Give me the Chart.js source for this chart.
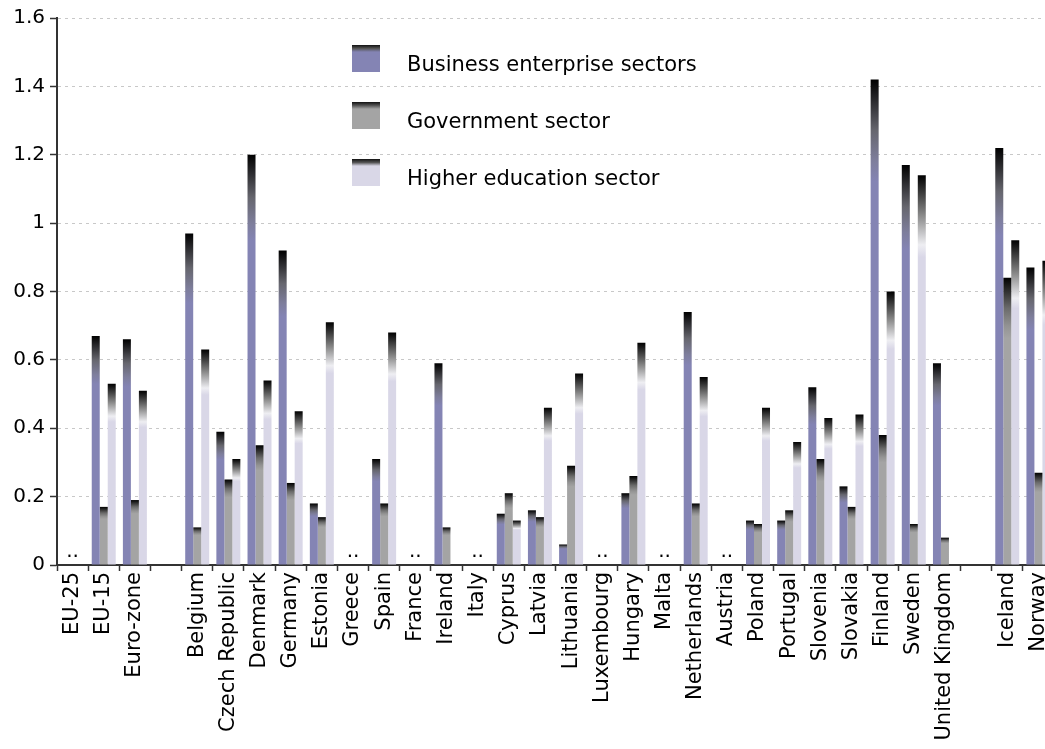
<!DOCTYPE html>
<html>
<head>
<meta charset="utf-8">
<script src="https://cdn.jsdelivr.net/npm/chart.js@4"></script>
<style>
  html, body { margin: 0; padding: 0; overflow: hidden; background: #fff; }
  #wrap { width: 1056px; height: 749px; position: relative; }
</style>
</head>
<body>
<div id="wrap"><canvas id="rdChart"></canvas></div>
<script>
// R&D expenditure by sector, % of GDP
const countries = ["EU-25", "EU-15", "Euro-zone", "", "Belgium", "Czech Republic", "Denmark", "Germany",
  "Estonia", "Greece", "Spain", "France", "Ireland", "Italy", "Cyprus", "Latvia", "Lithuania",
  "Luxembourg", "Hungary", "Malta", "Netherlands", "Austria", "Poland", "Portugal", "Slovenia",
  "Slovakia", "Finland", "Sweden", "United Kingdom", "", "Iceland", "Norway"];

const business = [null, 0.67, 0.66, null, 0.97, 0.39, 1.20, 0.92, 0.18, null, 0.31, null, 0.59, null,
  0.15, 0.16, 0.06, null, 0.21, null, 0.74, null, 0.13, 0.13, 0.52, 0.23, 1.42, 1.17, 0.59, null, 1.22, 0.87];
const government = [null, 0.17, 0.19, null, 0.11, 0.25, 0.35, 0.24, 0.14, null, 0.18, null, 0.11, null,
  0.21, 0.14, 0.29, null, 0.26, null, 0.18, null, 0.12, 0.16, 0.31, 0.17, 0.38, 0.12, 0.08, null, 0.84, 0.27];
const higherEd = [null, 0.53, 0.51, null, 0.63, 0.31, 0.54, 0.45, 0.71, null, 0.68, null, null, null,
  0.13, 0.46, 0.56, null, 0.65, null, 0.55, null, 0.46, 0.36, 0.43, 0.44, 0.80, 1.14, null, null, 0.95, 0.89];

const seriesNames = ["Business enterprise sectors", "Government sector", "Higher education sector"];
const yTicks = [0, 0.2, 0.4, 0.6, 0.8, 1, 1.2, 1.4, 1.6];

const FONT = "'DejaVu Sans', Verdana, sans-serif";
const colors = ["#8484b4", "#a4a4a4", "#d9d7e7"];
// shading stops from the top of each bar down to its plain colour
const shades = [
  [[0, "#000"], [0.5, "#66666e"], [0.8, "#7e7e9c"], [1, "#8484b4"]],
  [[0, "#000"], [0.5, "#6a6a6a"], [0.8, "#939393"], [1, "#a4a4a4"]],
  [[0, "#000"], [0.5, "#8c8c8c"], [0.85, "#eeeef2"], [1, "#d9d7e7"]]
];

// dark top shading on each bar, about a fifth of its height
function barFill(i) {
  return (ctx) => {
    const chart = ctx.chart;
    if (ctx.type !== "data" || ctx.raw == null || !chart.chartArea) return colors[i];
    const y = chart.scales.y;
    const top = y.getPixelForValue(ctx.raw);
    const bottom = y.getPixelForValue(0);
    const g = chart.ctx.createLinearGradient(0, top, 0, top + (bottom - top) * 0.21);
    shades[i].forEach(([p, c]) => g.addColorStop(p, c));
    return g;
  };
}

const legendBox = {
  id: "legendBox",
  afterDatasetsDraw(chart) {
    const c = chart.ctx;
    c.save();
    seriesNames.forEach((name, i) => {
      const x = 352, y = 45 + i * 57;
      c.fillStyle = colors[i];
      c.fillRect(x, y, 28, 27);
      const g = c.createLinearGradient(0, y, 0, y + 7);
      g.addColorStop(0, "#111");
      g.addColorStop(0.5, "#555");
      g.addColorStop(1, colors[i]);
      c.fillStyle = g;
      c.fillRect(x, y, 28, 7);
      c.fillStyle = "#000";
      c.font = "21px " + FONT;
      c.textBaseline = "alphabetic";
      c.fillText(name, 407, y + 26);
    });
    c.restore();
  }
};

// ".." where no figure is available
const missingMarks = {
  id: "missingMarks",
  afterDatasetsDraw(chart) {
    const c = chart.ctx;
    const x = chart.scales.x, y = chart.scales.y;
    c.save();
    c.fillStyle = "#000";
    c.font = "20px " + FONT;
    c.textAlign = "center";
    countries.forEach((name, i) => {
      if (name && business[i] == null && government[i] == null && higherEd[i] == null) {
        c.fillText("..", x.getPixelForValue(i), y.getPixelForValue(0) - 8);
      }
    });
    c.restore();
  }
};

new Chart(document.getElementById("rdChart"), {
  type: "bar",
  data: {
    labels: countries,
    datasets: [
      { label: seriesNames[0], data: business, backgroundColor: barFill(0) },
      { label: seriesNames[1], data: government, backgroundColor: barFill(1) },
      { label: seriesNames[2], data: higherEd, backgroundColor: barFill(2) }
    ]
  },
  options: {
    responsive: true,
    maintainAspectRatio: false,
    animation: false,
    events: [],
    layout: { padding: { top: 18, right: 2, left: 0, bottom: 0 } },
    datasets: { bar: { categoryPercentage: 0.77, barPercentage: 1, borderWidth: 0 } },
    plugins: { legend: { display: false }, tooltip: { enabled: false } },
    scales: {
      x: {
        offset: true,
        grid: { offset: true, drawOnChartArea: false, drawTicks: true, tickLength: 6, tickColor: "#333", tickWidth: 1.5 },
        border: { color: "#333", width: 2 },
        ticks: {
          autoSkip: false, minRotation: 90, maxRotation: 90, padding: 1,
          color: "#000", font: { family: FONT, size: 21 }
        },
        afterFit(scale) {
          scale.height = 184;
          scale.paddingRight = 0;
        }
      },
      y: {
        min: 0, max: 1.6,
        afterBuildTicks(scale) { scale.ticks = yTicks.map(v => ({ value: v })); },
        grid: { color: "#c8c8c8", lineWidth: 1, tickLength: 7, tickColor: "#333", tickWidth: 1.5, tickBorderDash: [] },
        border: { color: "#333", width: 2, dash: [3, 4] },
        ticks: {
          padding: 5, color: "#000", font: { family: FONT, size: 20 },
          callback: (v) => String(Math.round(v * 10) / 10)
        },
        afterFit(scale) { scale.width = 57; }
      }
    }
  },
  plugins: [legendBox, missingMarks]
});
</script>
</body>
</html>
